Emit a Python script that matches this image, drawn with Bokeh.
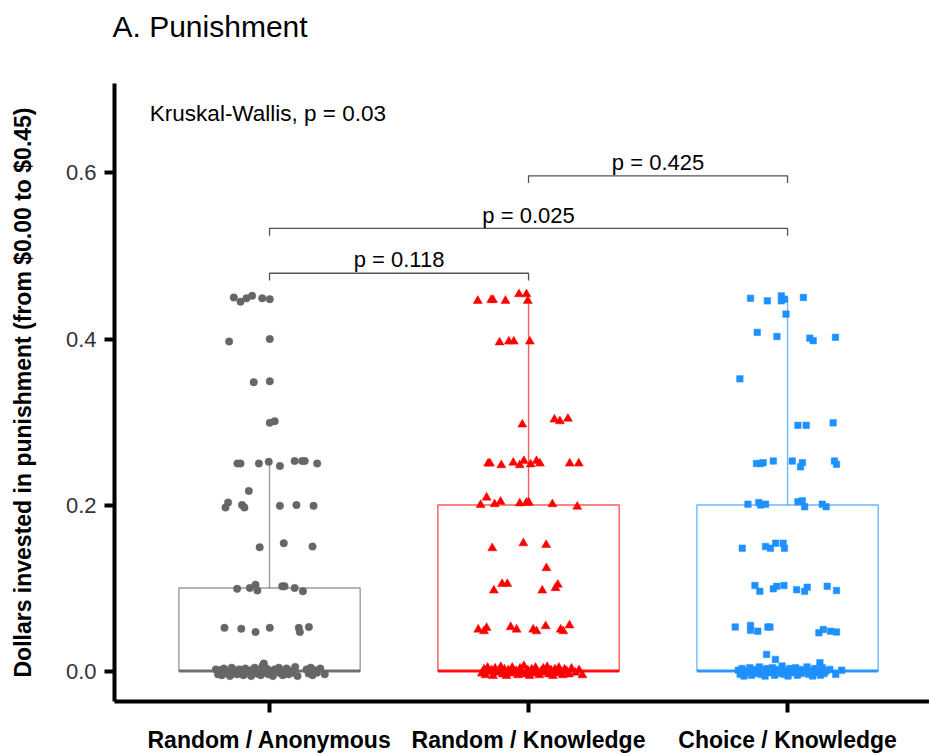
import numpy as np
from bokeh.plotting import figure
from bokeh.models import FixedTicker, Label, Range1d, ColumnDataSource
from bokeh.embed import file_html
from bokeh.resources import INLINE
from bokeh.core.properties import value

FONT = "Liberation Sans"

title_text = "A. Punishment"
categories = ["Random / Anonymous", "Random / Knowledge", "Choice / Knowledge"]
y_ticks = [0.0, 0.2, 0.4, 0.6]
y_tick_labels = ["0.0", "0.2", "0.4", "0.6"]

# box statistics
box_q1 = [0.0, 0.0, 0.0]
box_median = [0.0, 0.0, 0.0]
box_q3 = [0.10, 0.20, 0.20]
whisker_low = [0.0, 0.0, 0.0]
whisker_high = [0.25, 0.45, 0.45]

# pairwise comparisons
comp_from = [1, 1, 2]
comp_to = [2, 3, 3]
comp_labels = ["p = 0.118", "p = 0.025", "p = 0.425"]
kruskal_label = "Kruskal-Wallis, p = 0.03"

# ---- Random / Anonymous (jitter offset, value)
g1_x = [-0.138, -0.112, -0.089, -0.067, -0.028, 0.001,
        -0.156, 0.001,
        -0.061, 0.001,
        0.001, 0.020,
        -0.124, -0.112, -0.041, -0.003, 0.040, 0.097, 0.126, 0.136, 0.184,
        -0.080, -0.160, -0.170, -0.106, -0.097, 0.040, 0.104, 0.170,
        -0.038, 0.055, 0.166,
        -0.125, -0.076, -0.054, -0.047, 0.049, 0.058, 0.097, 0.129,
        -0.174, -0.109, -0.054, 0.001, 0.113, 0.117, 0.152,
        -0.022,
        -0.207, -0.199, -0.191, -0.184, -0.176, -0.169, -0.160, -0.153, -0.146, -0.139,
        -0.131, -0.124, -0.116, -0.108, -0.101, -0.093, -0.087, -0.079, -0.071, -0.065,
        -0.057, -0.049, -0.042, -0.034, -0.027, -0.019, -0.011, -0.004, 0.005, 0.013,
        0.019, 0.027, 0.036, 0.043, 0.051, 0.058, 0.066, 0.074, 0.083, 0.091,
        0.099, 0.108, 0.143, 0.151, 0.159, 0.166, 0.174, 0.183, 0.196, 0.213]
g1_y = [0.450, 0.445, 0.449, 0.452, 0.449, 0.448,
        0.397, 0.400,
        0.348, 0.349,
        0.299, 0.301,
        0.250, 0.250, 0.250, 0.252, 0.247, 0.253, 0.253, 0.253, 0.250,
        0.217, 0.203, 0.197, 0.200, 0.197, 0.199, 0.200, 0.199,
        0.149, 0.154, 0.150,
        0.099, 0.100, 0.104, 0.097, 0.102, 0.102, 0.100, 0.096,
        0.052, 0.051, 0.047, 0.052, 0.052, 0.047, 0.053,
        0.009,
        0.002, -0.004, 0.001, -0.005, 0.003, -0.002, 0.000, -0.006, 0.004, -0.003,
        0.001, -0.004, 0.002, -0.001, -0.005, 0.003, -0.002, 0.000, -0.006, 0.002,
        0.004, -0.003, 0.001, -0.005, 0.006, -0.002, 0.003, -0.004, 0.000, -0.006,
        0.002, -0.001, 0.004, -0.003, -0.005, 0.001, 0.003, -0.004, 0.000, -0.002,
        0.005, -0.006, 0.002, -0.003, 0.004, -0.005, 0.001, -0.002, 0.003, -0.004]

# ---- Random / Knowledge
g2_x = [-0.196, -0.144, -0.137, -0.089, -0.037, -0.008, -0.003,
        -0.112, -0.076, -0.057, 0.005,
        -0.024, 0.100, 0.121, 0.152,
        -0.156, -0.149, -0.105, -0.059, -0.034, -0.018, 0.008, 0.031, 0.044, 0.159, 0.194,
        -0.162, -0.185, -0.131, -0.108, -0.034, -0.008, 0.001, 0.092, 0.188,
        -0.140, -0.020, 0.068,
        0.069,
        -0.134, -0.102, -0.082, 0.053, 0.104, 0.113,
        -0.194, -0.162, -0.172, -0.069, -0.046, 0.018, 0.031, 0.066, 0.124, 0.134, 0.158,
        -0.180, -0.172, -0.166, -0.158, -0.151, -0.143, -0.137, -0.129, -0.122, -0.114,
        -0.107, -0.099, -0.093, -0.085, -0.078, -0.070, -0.063, -0.056, -0.048, -0.041,
        -0.033, -0.026, -0.018, -0.011, -0.003, 0.004, 0.012, 0.019, 0.027, 0.034,
        0.042, 0.049, 0.057, 0.064, 0.072, 0.079, 0.087, 0.094, 0.102, 0.109,
        0.117, 0.124, 0.132, 0.139, 0.147, 0.156, 0.166, 0.181, 0.195, 0.208]
g2_y = [0.446, 0.447, 0.447, 0.446, 0.454, 0.454, 0.446,
        0.396, 0.397, 0.397, 0.397,
        0.297, 0.303, 0.301, 0.304,
        0.250, 0.250, 0.248, 0.251, 0.248, 0.253, 0.249, 0.253, 0.250, 0.250, 0.250,
        0.209, 0.200, 0.201, 0.204, 0.202, 0.203, 0.203, 0.201, 0.198,
        0.148, 0.154, 0.152,
        0.124,
        0.097, 0.105, 0.105, 0.097, 0.100, 0.104,
        0.050, 0.052, 0.048, 0.053, 0.050, 0.050, 0.048, 0.054, 0.050, 0.048, 0.055,
        -0.003, 0.002, -0.005, 0.004, -0.001, 0.001, -0.006, 0.003, -0.002, 0.000,
        0.005, -0.004, 0.002, -0.006, 0.001, -0.003, 0.004, -0.001, 0.000, -0.005,
        0.003, -0.002, 0.006, -0.004, 0.001, -0.006, 0.002, -0.003, 0.004, -0.001,
        -0.005, 0.000, 0.003, -0.002, 0.005, -0.004, 0.001, -0.006, 0.002, -0.003,
        0.004, -0.001, -0.005, 0.002, 0.000, -0.004, 0.003, -0.002, 0.001, -0.005]

# ---- Choice / Knowledge
g3_x = [-0.143, -0.078, -0.024, -0.024, -0.012, 0.061,
        -0.006,
        -0.117, -0.041, 0.086, 0.099, 0.185,
        -0.184,
        0.040, 0.072, 0.176,
        -0.120, -0.104, -0.094, -0.055, 0.018, 0.057, 0.050, 0.181, 0.189,
        -0.153, -0.111, -0.104, -0.085, 0.040, 0.057, 0.066, 0.134, 0.149,
        -0.175, -0.085, -0.066, -0.046, -0.017, -0.012,
        -0.126, -0.107, -0.055, -0.042, -0.014, 0.035, 0.066, 0.076, 0.153, 0.189,
        -0.202, -0.143, -0.143, -0.115, -0.076, -0.068, 0.121, 0.138, 0.166, 0.189,
        -0.081, -0.047, 0.125,
        -0.190, -0.183, -0.176, -0.168, -0.161, -0.153, -0.146, -0.139, -0.131, -0.124,
        -0.116, -0.109, -0.102, -0.094, -0.087, -0.080, -0.072, -0.065, -0.058, -0.050,
        -0.043, -0.035, -0.028, -0.021, -0.013, -0.006, 0.002, 0.009, 0.016, 0.024,
        0.031, 0.038, 0.046, 0.053, 0.060, 0.068, 0.075, 0.082, 0.090, 0.097,
        0.104, 0.112, 0.119, 0.127, 0.134, 0.141, 0.149, 0.163, 0.186, 0.209]
g3_y = [0.449, 0.446, 0.452, 0.446, 0.448, 0.450,
        0.430,
        0.408, 0.403, 0.401, 0.398, 0.402,
        0.352,
        0.296, 0.296, 0.299,
        0.250, 0.250, 0.251, 0.253, 0.253, 0.251, 0.246, 0.253, 0.249,
        0.201, 0.203, 0.200, 0.201, 0.204, 0.205, 0.198, 0.201, 0.198,
        0.148, 0.150, 0.148, 0.154, 0.154, 0.148,
        0.103, 0.096, 0.099, 0.102, 0.103, 0.098, 0.096, 0.101, 0.102, 0.097,
        0.053, 0.055, 0.049, 0.048, 0.053, 0.053, 0.046, 0.050, 0.048, 0.047,
        0.020, 0.014, 0.010,
        0.001, -0.004, 0.003, -0.006, 0.000, -0.002, 0.004, -0.005, 0.002, -0.003,
        -0.001, 0.005, -0.004, 0.001, -0.006, 0.003, -0.002, 0.000, 0.004, -0.005,
        0.002, -0.003, -0.001, 0.006, -0.004, 0.001, -0.006, 0.003, -0.002, 0.000,
        0.004, -0.005, 0.002, -0.003, 0.001, -0.001, 0.005, -0.004, 0.000, -0.006,
        0.003, -0.002, 0.001, -0.005, 0.004, -0.003, 0.000, 0.002, -0.004, 0.001]

colors = ["#666666", "#FF0000", "#1E90FF"]
markers = ["circle", "triangle", "square"]
sizes = [7.5, 9, 6.5]

# the second (blank) title line reserves room so the title sits near the top
p = figure(width=929, height=755, output_backend="svg", toolbar_location=None,
           x_range=Range1d(0.4015, 3.548), y_range=Range1d(-0.0367, 0.7078),
           min_border_left=114, min_border_right=0, min_border_top=83,
           min_border_bottom=53, background_fill_color="white",
           border_fill_color="white", title=title_text + "\n ")
p.outline_line_color = None
p.xgrid.visible = False
p.ygrid.visible = False

p.title.align = "left"
p.title.vertical_align = "top"
p.title.text_font = FONT
p.title.text_font_size = "30px"
p.title.text_font_style = "normal"
p.title.text_color = "#000000"
p.title.offset = -2
p.title.standoff = 12

cx = np.array([1, 2, 3], dtype=float)
half = 0.35

# boxes
p.quad(left=cx - half, right=cx + half, bottom=box_q1, top=box_q3,
       fill_color=None, line_color=colors, line_alpha=0.65, line_width=1.4)
p.segment(x0=cx, x1=cx, y0=box_q3, y1=whisker_high, line_color=colors,
          line_alpha=0.65, line_width=1.4)
p.segment(x0=cx, x1=cx, y0=whisker_low, y1=box_q1, line_color=colors,
          line_alpha=0.65, line_width=1.4)
p.segment(x0=cx - half, x1=cx + half, y0=box_median, y1=box_median,
          line_color=colors, line_alpha=0.9, line_width=3)

# points
groups = [(g1_x, g1_y), (g2_x, g2_y), (g3_x, g3_y)]
for i, (gx, gy) in enumerate(groups):
    src = ColumnDataSource(dict(x=np.array(gx) + cx[i], y=gy))
    p.scatter("x", "y", source=src, marker=markers[i], size=sizes[i],
              fill_color=colors[i], line_color=colors[i], line_width=0.5)

# comparison brackets
bracket_y = [0.4792, 0.5333, 0.5966]
label_y = [0.4952, 0.5493, 0.6131]
tick_len = 0.0088
for a, b, lab, by, ly in zip(comp_from, comp_to, comp_labels, bracket_y, label_y):
    p.line(x=[a, a, b, b], y=[by - tick_len, by, by, by - tick_len],
           line_color="#555555", line_width=1.3)
    p.add_layout(Label(x=(a + b) / 2, y=ly, text=lab, text_align="center",
                       text_baseline="alphabetic", text_font=FONT,
                       text_font_size="22px", text_color="#000000"))

p.add_layout(Label(x=0.538, y=0.6716, text=kruskal_label, text_align="left",
                   text_baseline="alphabetic", text_font=FONT,
                   text_font_size="22.5px", text_color="#000000"))

# axes
yax = p.yaxis[0]
yax.ticker = FixedTicker(ticks=y_ticks)
yax.major_label_overrides = {t: l for t, l in zip(y_ticks, y_tick_labels)}
yax.axis_label = "Dollars invested in punishment (from $0.00 to $0.45)"
yax.axis_label_text_font = FONT
yax.axis_label_text_font_style = "bold"
yax.axis_label_text_font_size = "23px"
yax.axis_label_text_color = "#000000"
yax.axis_label_standoff = 27
yax.major_label_text_font = FONT
yax.major_label_text_font_size = "22px"
yax.major_label_text_color = "#333333"
yax.major_label_standoff = 8
yax.axis_line_width = 4
yax.axis_line_color = "#000000"
yax.major_tick_line_width = 4
yax.major_tick_line_color = "#000000"
yax.major_tick_out = 10
yax.major_tick_in = 0
yax.minor_tick_line_color = None

xax = p.xaxis[0]
xax.ticker = FixedTicker(ticks=[1, 2, 3])
xax.major_label_overrides = {i + 1: c for i, c in enumerate(categories)}
xax.major_label_text_font = FONT
xax.major_label_text_font_style = "bold"
xax.major_label_text_font_size = "23px"
xax.major_label_text_color = "#000000"
xax.major_label_standoff = 14
xax.axis_line_width = 4
xax.axis_line_color = "#000000"
xax.major_tick_line_width = 4
xax.major_tick_line_color = "#000000"
xax.major_tick_out = 11
xax.major_tick_in = 0
xax.minor_tick_line_color = None

open("out.html", "w").write(file_html(p, INLINE))
